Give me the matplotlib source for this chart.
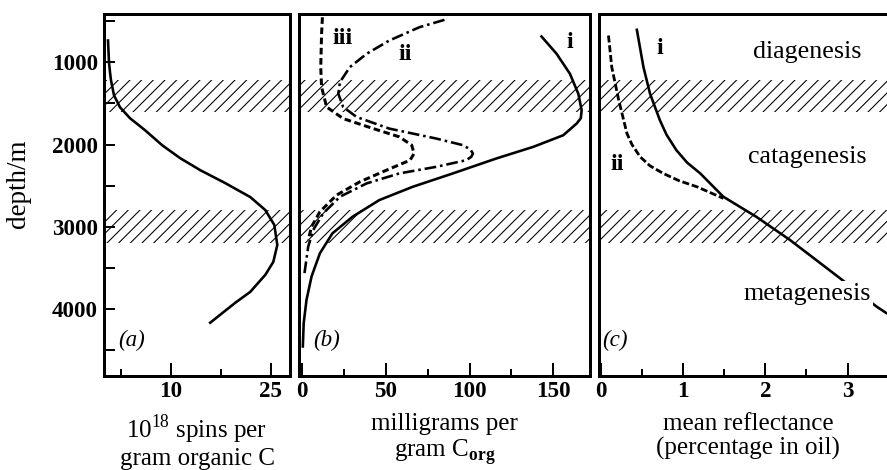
import matplotlib
matplotlib.use('Agg')
import matplotlib.pyplot as plt
from matplotlib.ticker import FixedLocator

DPI = 140
plt.rcParams['font.family'] = ['Liberation Serif', 'DejaVu Serif']
plt.rcParams['mathtext.fontset'] = 'custom'
plt.rcParams['mathtext.rm'] = 'Liberation Serif'
plt.rcParams['mathtext.bf'] = 'Liberation Serif:bold'
plt.rcParams['hatch.linewidth'] = 0.55


def pt(px):
    return px * 72 / DPI


# ---------------- data ----------------
depth_lim = (4820, 410)
bands = [(1220, 1600), (2800, 3200)]
depth_ticks = [1000, 2000, 3000, 4000]
depth_minor = [500, 1500, 2500, 3500, 4500]

# (a) spins
a_spins = [0.6, 0.75, 0.9, 1.05, 1.5, 2.4, 3.9, 6.15, 8.7, 11.4, 14.4, 18.15,
           21.9, 24.15, 25.5, 25.95, 25.35, 24.15, 21.9, 19.65, 15.9]
a_depth = [733, 1000, 1120, 1219, 1401, 1547, 1680, 1826, 2008, 2166, 2312, 2470,
           2640, 2798, 2980, 3224, 3430, 3588, 3795, 3928, 4171]

# (b) milligrams per gram C_org
b_i_val = [143, 152, 160, 165, 167, 166.5, 164, 156, 138, 116, 90, 66, 46, 30,
           18, 10.5, 5.5, 2.5, 0.8, 0.3]
b_i_depth = [684, 894, 1138, 1381, 1583, 1680, 1745, 1887, 2029, 2170, 2352, 2515,
             2677, 2880, 3082, 3325, 3608, 3892, 4175, 4460]
b_ii_val = [85, 70, 52, 38.5, 28.4, 22.5, 21.5, 24.4, 32.5, 52, 80, 96, 100.5,
            102, 101, 98, 80, 58, 38.4, 22.5, 12.5, 6.5, 3.5, 1]
b_ii_depth = [481, 571, 733, 894, 1057, 1239, 1381, 1543, 1665, 1806, 1927, 2008,
              2060, 2110, 2150, 2191, 2272, 2352, 2474, 2636, 2838, 3041, 3244, 3608]
b_iii_val = [12, 11.5, 11, 11.5, 14.5, 24.4, 42.4, 58, 65.4, 66.8, 64.4, 50.4,
             34.4, 20.5, 10.5, 5.5, 3.5]
b_iii_depth = [450, 651, 1057, 1300, 1543, 1684, 1806, 1907, 2008, 2110, 2191,
               2312, 2454, 2616, 2819, 3001, 3163]

# (c) mean reflectance
c_i_val = [0.44, 0.52, 0.6, 0.72, 0.8, 0.92, 1.05, 1.21, 1.49, 1.89, 2.3, 2.88,
           3.35, 3.47]
c_i_depth = [603, 1057, 1381, 1705, 1880, 2069, 2220, 2352, 2636, 2880, 3163, 3608,
             3973, 4053]
c_ii_val = [0.095, 0.135, 0.22, 0.32, 0.38, 0.48, 0.6, 0.76, 0.95, 1.17, 1.49]
c_ii_depth = [672, 1057, 1462, 1867, 2000, 2150, 2260, 2352, 2440, 2515, 2656]

fig = plt.figure(figsize=(887 / DPI, 470 / DPI), dpi=DPI)

W, H = 887, 470
top, bot = 14, 376


def box(x0, x1):
    return [x0 / W, 1 - bot / H, (x1 - x0) / W, (bot - top) / H]


ax_a = fig.add_axes(box(104, 290))
ax_b = fig.add_axes(box(299, 590))
ax_c = fig.add_axes(box(599, 897))

lw_curve = pt(2.6)
tick_fs = pt(23)
lab_fs = pt(25)
note_fs = pt(26)
roman_fs = pt(24)

for ax in (ax_a, ax_b, ax_c):
    ax.set_ylim(*depth_lim)
    for s in ax.spines.values():
        s.set_linewidth(pt(3))
    for lo, hi in bands:
        ax.axhspan(lo, hi, facecolor='none', edgecolor='black', hatch='////',
                   linewidth=0, zorder=0)
    ax.tick_params(axis='x', which='major', direction='in', length=pt(13),
                   width=pt(2), labelsize=tick_fs, pad=pt(5), top=False)
    ax.tick_params(axis='x', which='minor', direction='in', length=pt(7),
                   width=pt(2), top=False)

# (a)
ax_a.set_xlim(0, 27.85)
ax_a.plot(a_spins, a_depth, color='black', lw=lw_curve)
ax_a.xaxis.set_major_locator(FixedLocator([10, 25]))
ax_a.xaxis.set_minor_locator(FixedLocator([2.5, 17.5]))
ax_a.yaxis.set_major_locator(FixedLocator(depth_ticks))
ax_a.yaxis.set_minor_locator(FixedLocator(depth_minor))
ax_a.tick_params(axis='y', which='both', direction='in', length=pt(11),
                 width=pt(2), labelsize=tick_fs, pad=pt(6), right=False)
ax_a.set_ylabel('depth/m', fontsize=pt(27))
ax_a.yaxis.set_label_coords(-0.39, 0.532)
ax_a.set_xlabel('10$^{18}$ spins per\ngram organic C', fontsize=lab_fs,
                labelpad=pt(11), linespacing=1.1)

# (b)
ax_b.set_xlim(-2, 172)
ax_b.plot(b_i_val, b_i_depth, color='black', lw=lw_curve)
ax_b.plot(b_ii_val, b_ii_depth, color='black', lw=pt(2.6),
          linestyle=(0, (4.5, 1.5, 1, 1.5)))
ax_b.plot(b_iii_val, b_iii_depth, color='black', lw=pt(3),
          linestyle=(0, (2.2, 1.2)))
ax_b.xaxis.set_major_locator(FixedLocator([0, 50, 100, 150]))
ax_b.xaxis.set_minor_locator(FixedLocator([25, 75, 125]))
ax_b.set_yticks([])
ax_b.set_xlabel('milligrams per\ngram C$_{\\mathbf{org}}$', fontsize=lab_fs,
                labelpad=pt(11), linespacing=1.1)

# (c)
ax_c.set_xlim(-0.02, 3.6)
ax_c.plot(c_i_val, c_i_depth, color='black', lw=lw_curve)
ax_c.plot(c_ii_val, c_ii_depth, color='black', lw=pt(2.8),
          linestyle=(0, (2.5, 1)))
ax_c.xaxis.set_major_locator(FixedLocator([0, 1, 2, 3]))
ax_c.xaxis.set_minor_locator(FixedLocator([0.5, 1.5, 2.5]))
ax_c.set_yticks([])
ax_c.set_xlabel('mean reflectance\n(percentage in oil)', fontsize=lab_fs,
                labelpad=pt(11), linespacing=1.1)

for ax in (ax_a, ax_b, ax_c):
    for lbl in ax.get_xticklabels() + ax.get_yticklabels():
        lbl.set_fontweight('bold')


# annotations, placed in figure pixels
def ftext(x, y, s, **kw):
    fig.text(x / W, 1 - y / H, s, ha='center', va='center', **kw)


ftext(132, 340, '(a)', fontsize=pt(23), style='italic')
ftext(343, 38, 'iii', fontsize=roman_fs, fontweight='bold')
ftext(405, 55, 'ii', fontsize=roman_fs, fontweight='bold')
ftext(570, 42, 'i', fontsize=roman_fs, fontweight='bold')
ftext(327, 340, '(b)', fontsize=pt(23), style='italic')
ftext(660, 48, 'i', fontsize=roman_fs, fontweight='bold')
ftext(617, 165, 'ii', fontsize=roman_fs, fontweight='bold')
ftext(615, 340, '(c)', fontsize=pt(23), style='italic')
ftext(807, 52, 'diagenesis', fontsize=note_fs)
ftext(807, 157, 'catagenesis', fontsize=note_fs)
ftext(807, 294, 'metagenesis', fontsize=note_fs,
      bbox=dict(facecolor='white', edgecolor='none', pad=1))

fig.savefig('out.png', dpi=DPI)
